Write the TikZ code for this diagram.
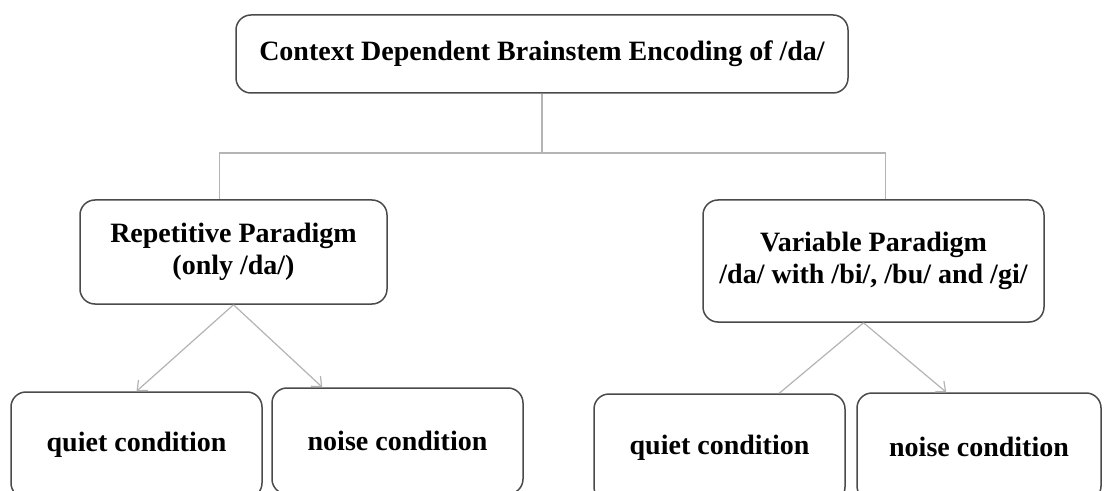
\documentclass[tikz,border=0pt]{standalone}
\usepackage{fontspec}
\setmainfont{Liberation Serif}
\usetikzlibrary{arrows.meta,positioning}

\definecolor{edgegray}{HTML}{4A4A4A}
\definecolor{linkgray}{HTML}{B4B4B4}

\begin{document}
\begin{tikzpicture}[
    x=0.5pt, y=-0.5pt,
    font=\bfseries\fontsize{14}{16}\selectfont,
    box/.style={draw=edgegray, line width=0.75pt, rounded corners=7.5pt,
      align=center, fill=white, inner sep=0pt},
    cond/.style={box, minimum width=125.5pt, minimum height=53pt},
    con/.style={draw=linkgray, line width=0.6pt},
    arr/.style={con, -{Straight Barb[length=4pt, width=7pt]}},
  ]
  \clip (0,0) rectangle (1106,491);
  \fill[white] (0,0) rectangle (1106,491);

  % top level
  \node[box, minimum width=306pt, minimum height=39pt] (title) at (542,54)
    {Context Dependent Brainstem Encoding of /da/};

  % paradigms
  \node[box, minimum width=153.5pt, minimum height=52pt] (rep) at (233.5,252)
    {Repetitive Paradigm\\(only /da/)};
  \node[box, minimum width=170.5pt, minimum height=61pt] (var) at (873.5,261)
    {Variable Paradigm\\/da/ with /bi/, /bu/ and /gi/};

  % conditions
  \node[cond] (repq) at (136.5,445) {quiet condition};
  \node[cond] (repn) at (397.5,441) {noise condition};
  \node[cond, minimum height=54pt] (varq) at (719.5,448) {quiet condition};
  \node[cond, minimum width=122pt, minimum height=54pt] (varn) at (979,447) {noise condition};

  \coordinate (split) at (542,153);
  \coordinate (repin) at ([xshift=-7pt]rep.north);
  \coordinate (varin) at ([xshift=6pt]var.north);
  \coordinate (varout) at ([xshift=-5pt]var.south);

  \draw[con] (title.south) -- (split);
  \draw[con] (repin) |- (split) -| (varin);

  \draw[arr] (rep.south) -- (repq.north);
  \draw[arr] (rep.south) -- ([xshift=25.5pt]repn.north west);
  \draw[con] (varout) -- ([xshift=93pt]varq.north west);
  \draw[arr] (varout) -- ([xshift=45pt]varn.north west);
\end{tikzpicture}
\end{document}
